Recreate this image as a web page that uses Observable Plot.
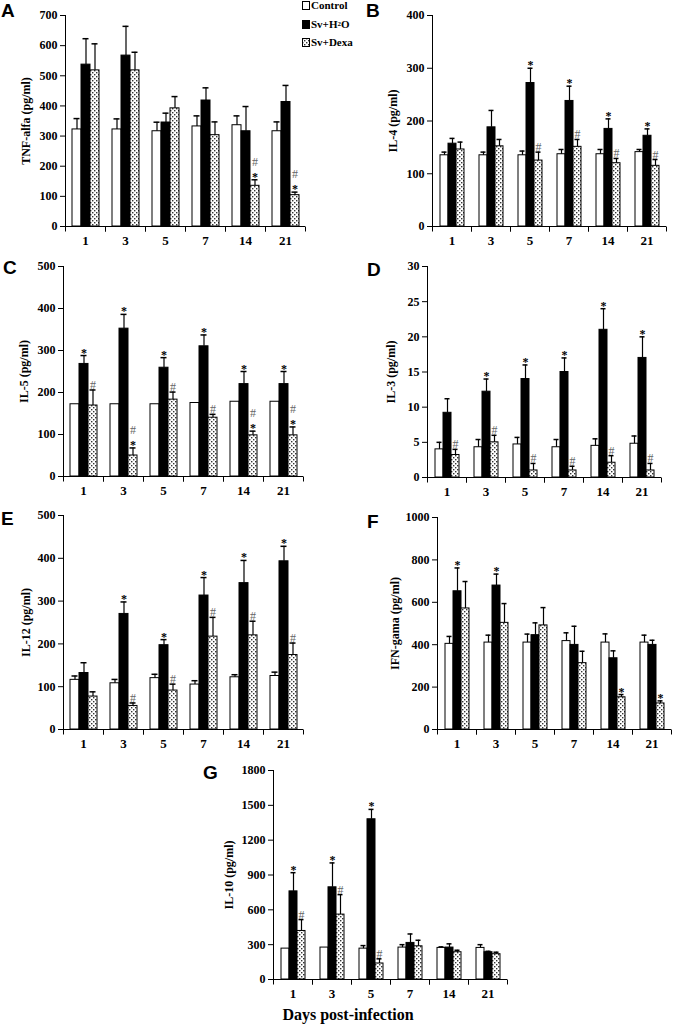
<!DOCTYPE html>
<html><head><meta charset="utf-8">
<script src="https://cdn.jsdelivr.net/npm/d3@7"></script>
<script src="https://cdn.jsdelivr.net/npm/@observablehq/plot@0.6"></script>
<style>
body{margin:0;background:#fff;}
#fig{position:relative;width:675px;height:1029px;overflow:hidden;font-family:'Liberation Serif','Times New Roman',serif;}
.pn{position:absolute;}
.pn g[aria-label="fx-axis tick label"]{font-size:13px;}
.letter{position:absolute;font:bold 19px 'Liberation Sans',Arial,sans-serif;line-height:1;}
.legend{position:absolute;left:302px;top:0;font:bold 11px 'Liberation Serif','Times New Roman',serif;}
.legend div{height:18.5px;line-height:11px;white-space:nowrap;display:flex;align-items:flex-start;}
.legend svg{margin-right:1px;margin-top:1px;}
.xtitle{position:absolute;left:0;width:696px;top:1006px;text-align:center;font:bold 16px 'Liberation Serif','Times New Roman',serif;}
</style></head>
<body>
<svg width="0" height="0" style="position:absolute">
<defs>
<pattern id="dots" width="4" height="4" patternUnits="userSpaceOnUse">
<rect width="4" height="4" fill="#fff"/>
<rect x="0" y="0" width="1.4" height="1.4" fill="#333"/>
<rect x="2" y="2" width="1.4" height="1.4" fill="#333"/>
</pattern>
</defs>
</svg>
<div id="fig"></div>
<script>
const days = ["1", "3", "5", "7", "14", "21"];
const groups = ["Control", "Sv+H2O", "Sv+Dexa"];

// A: TNF-alfa (mean, SEM, significance marks)
const tnfControl = [322, 322, 316, 332, 336, 316];
const tnfControlSem = [36, 35, 30, 35, 31, 31];
const tnfH2O = [537, 567, 345, 418, 316, 413];
const tnfH2OSem = [86, 97, 31, 42, 82, 55];
const tnfDexa = [518, 518, 392, 303, 135, 104];
const tnfDexaSem = [88, 60, 39, 44, 20, 10];
const tnfH2OSig = ["", "", "", "", "", ""];
const tnfDexaSig = ["", "", "", "", "#*", "#*"];

// B: IL-4
const il4Control = [135, 135, 135, 137, 137, 141];
const il4ControlSem = [6, 6, 8, 9, 9, 5];
const il4H2O = [157, 188, 272, 238, 185, 172];
const il4H2OSem = [10, 32, 28, 28, 19, 13];
const il4Dexa = [146, 152, 125, 151, 120, 115];
const il4DexaSem = [14, 13, 16, 14, 9, 12];
const il4H2OSig = ["", "", "*", "*", "*", "*"];
const il4DexaSig = ["", "", "#", "#", "#", "#"];

// C: IL-5
const il5Control = [172, 172, 172, 175, 178, 178];
const il5ControlSem = [null, null, null, null, null, null];
const il5H2O = [268, 352, 259, 310, 220, 220];
const il5H2OSem = [20, 34, 24, 27, 30, 30];
const il5Dexa = [169, 50, 183, 140, 98, 98];
const il5DexaSem = [37, 18, 18, 8, 10, 20];
const il5H2OSig = ["*", "*", "*", "*", "*", "*"];
const il5DexaSig = ["#", "#*", "#", "#", "#*", "#*"];

// D: IL-3
const il3Control = [4.0, 4.3, 4.7, 4.3, 4.5, 4.8];
const il3ControlSem = [1.0, 1.1, 1.0, 1.1, 1.0, 1.1];
const il3H2O = [9.2, 12.2, 14, 15, 21, 17];
const il3H2OSem = [2.0, 1.8, 2, 2, 3, 3];
const il3Dexa = [3.2, 5.0, 1.0, 1.0, 2.1, 1.0];
const il3DexaSem = [0.8, 1.0, 1.0, 0.6, 1.0, 1.0];
const il3H2OSig = ["", "*", "*", "*", "*", "*"];
const il3DexaSig = ["#", "#", "#", "#", "#", "#"];

// E: IL-12
const il12Control = [116, 108, 120, 105, 122, 125];
const il12ControlSem = [9, 9, 9, 9, 6, 9];
const il12H2O = [132, 270, 197, 313, 342, 393];
const il12H2OSem = [24, 28, 13, 42, 53, 35];
const il12Dexa = [77, 55, 91, 217, 220, 174];
const il12DexaSem = [11, 7, 15, 45, 33, 28];
const il12H2OSig = ["", "*", "*", "*", "*", "*"];
const il12DexaSig = ["", "#", "#", "#", "#", "#"];

// F: IFN-gama
const ifnControl = [404, 410, 410, 417, 410, 410];
const ifnControlSem = [35, 35, 40, 39, 41, 35];
const ifnH2O = [652, 679, 445, 399, 336, 399];
const ifnH2OSem = [110, 54, 58, 88, 35, 22];
const ifnDexa = [571, 503, 491, 313, 152, 123];
const ifnDexaSem = [127, 91, 84, 56, 13, 12];
const ifnH2OSig = ["*", "*", "", "", "", ""];
const ifnDexaSig = ["", "", "", "", "*", "*"];

// G: IL-10
const il10Control = [266, 275, 266, 275, 272, 272];
const il10ControlSem = [null, null, 26, 25, 9, 28];
const il10H2O = [759, 794, 1380, 315, 275, 235];
const il10H2OSem = [161, 210, 85, 77, 32, 8];
const il10Dexa = [418, 559, 138, 286, 235, 218];
const il10DexaSem = [98, 172, 40, 52, 17, 17];
const il10H2OSig = ["*", "*", "*", "", "", ""];
const il10DexaSig = ["#", "#", "#", "", "", ""];

const ticksA = [0, 100, 200, 300, 400, 500, 600, 700];
const ticksB = [0, 100, 200, 300, 400];
const ticksC = [0, 100, 200, 300, 400, 500];
const ticksD = [0, 5, 10, 15, 20, 25, 30];
const ticksE = [0, 100, 200, 300, 400, 500];
const ticksF = [0, 200, 400, 600, 800, 1000];
const ticksG = [0, 300, 600, 900, 1200, 1500, 1800];

const fills = {"Control": "#fff", "Sv+H2O": "#000", "Sv+Dexa": "url(#dots)"};
const boundaryTick = {draw(context) { context.moveTo(0, 0); context.lineTo(0, 5); }};

function table(series) {
  const rows = [];
  days.forEach((day, i) => {
    series.forEach(([group, mean, sem, sig]) => {
      const s = sem[i];
      rows.push({day, group, value: mean[i], err: s == null ? null : mean[i] + s, sig: sig ? sig[i] : ""});
    });
  });
  return rows;
}

const panels = [
  {letter: "A", left: 0, top: 0, width: 320, height: 255, ml: 65, mr: 15, mt: 15, mb: 29, ticks: ticksA,
   label: "TNF-alfa (pg/ml)", lo: 44, lx: 1, ly: 1,
   series: [["Control", tnfControl, tnfControlSem], ["Sv+H2O", tnfH2O, tnfH2OSem, tnfH2OSig], ["Sv+Dexa", tnfDexa, tnfDexaSem, tnfDexaSig]]},
  {letter: "B", left: 340, top: 0, width: 335, height: 255, ml: 89, mr: 7, mt: 15, mb: 29, ticks: ticksB,
   label: "IL-4 (pg/ml)", lo: 44, lx: 366, ly: 1,
   series: [["Control", il4Control, il4ControlSem], ["Sv+H2O", il4H2O, il4H2OSem, il4H2OSig], ["Sv+Dexa", il4Dexa, il4DexaSem, il4DexaSig]]},
  {letter: "C", left: 0, top: 255, width: 320, height: 250, ml: 62, mr: 16, mt: 11, mb: 29, ticks: ticksC,
   label: "IL-5 (pg/ml)", lo: 44, lx: 3, ly: 258,
   series: [["Control", il5Control, il5ControlSem], ["Sv+H2O", il5H2O, il5H2OSem, il5H2OSig], ["Sv+Dexa", il5Dexa, il5DexaSem, il5DexaSig]]},
  {letter: "D", left: 340, top: 255, width: 335, height: 250, ml: 84, mr: 12, mt: 11, mb: 28, ticks: ticksD,
   label: "IL-3 (pg/ml)", lo: 41, lx: 367, ly: 260,
   series: [["Control", il3Control, il3ControlSem], ["Sv+H2O", il3H2O, il3H2OSem, il3H2OSig], ["Sv+Dexa", il3Dexa, il3DexaSem, il3DexaSig]]},
  {letter: "E", left: 0, top: 505, width: 320, height: 250, ml: 62, mr: 16, mt: 10, mb: 26, ticks: ticksE,
   label: "IL-12 (pg/ml)", lo: 42, lx: 1, ly: 509,
   series: [["Control", il12Control, il12ControlSem], ["Sv+H2O", il12H2O, il12H2OSem, il12H2OSig], ["Sv+Dexa", il12Dexa, il12DexaSem, il12DexaSig]]},
  {letter: "F", left: 340, top: 505, width: 335, height: 250, ml: 95, mr: 2, mt: 12, mb: 26, ticks: ticksF,
   label: "IFN-gama (pg/ml)", lo: 47, lx: 367, ly: 512,
   series: [["Control", ifnControl, ifnControlSem], ["Sv+H2O", ifnH2O, ifnH2OSem, ifnH2OSig], ["Sv+Dexa", ifnDexa, ifnDexaSem, ifnDexaSig]]},
  {letter: "G", left: 160, top: 760, width: 360, height: 250, ml: 112, mr: 12, mt: 10, mb: 31, ticks: ticksG,
   label: "IL-10 (pg/ml)", lo: 49, lx: 203, ly: 763,
   series: [["Control", il10Control, il10ControlSem], ["Sv+H2O", il10H2O, il10H2OSem, il10H2OSig], ["Sv+Dexa", il10Dexa, il10DexaSem, il10DexaSig]]}
];

const fig = document.getElementById("fig");

for (const p of panels) {
  const rows = table(p.series);
  const errRows = rows.filter(d => d.err != null);
  const top = d => d.err ?? d.value;
  const stars = rows.filter(d => d.sig.includes("*"));
  const hashAlone = rows.filter(d => d.sig.includes("#") && !d.sig.includes("*"));
  const hashOverStar = rows.filter(d => d.sig.includes("#") && d.sig.includes("*"));
  const chart = Plot.plot({
    width: p.width, height: p.height,
    marginLeft: p.ml, marginRight: p.mr, marginTop: p.mt, marginBottom: p.mb,
    style: {fontFamily: "'Liberation Serif','Times New Roman',serif", fontWeight: "bold", fontSize: "12px", background: "transparent", overflow: "visible", color: "#000"},
    fx: {domain: days, padding: 0, axis: "bottom", tickSize: 0, tickPadding: 9, label: null},
    x: {domain: groups, axis: null, paddingInner: 0, paddingOuter: 0.72},
    y: {domain: [0, p.ticks[p.ticks.length - 1]], ticks: p.ticks, tickSize: 5, tickPadding: 3, line: true,
        label: p.label, labelAnchor: "center", labelOffset: p.lo, labelArrow: "none", tickFormat: d => String(d)},
    marks: [
      ...groups.map(g => Plot.barY(rows.filter(d => d.group === g), {fx: "day", x: "group", y: "value", fill: fills[g], stroke: "#000", strokeWidth: 1})),
      Plot.ruleX(errRows, {fx: "day", x: "group", y1: "value", y2: "err", stroke: "#000", strokeWidth: 1.2}),
      Plot.tickY(errRows, {fx: "day", x: "group", y: "err", stroke: "#000", strokeWidth: 1.5, insetLeft: 1.5, insetRight: 1.5}),
      Plot.text(stars, {fx: "day", x: "group", y: top, text: () => "*", lineAnchor: "bottom", dy: 1, fontSize: 12, fill: "#000"}),
      Plot.text(hashAlone, {fx: "day", x: "group", y: top, text: () => "#", lineAnchor: "bottom", dy: -1, fontSize: 12, fontWeight: "normal", fill: "#666"}),
      Plot.text(hashOverStar, {fx: "day", x: "group", y: top, text: () => "#", lineAnchor: "bottom", dy: -14, fontSize: 12, fontWeight: "normal", fill: "#666"}),
      Plot.ruleY([0], {stroke: "#000"}),
      Plot.dot([0], {frameAnchor: "bottom-left", symbol: boundaryTick, fill: "none", stroke: "#000", strokeWidth: 1}),
      Plot.dot([0], {frameAnchor: "bottom-right", symbol: boundaryTick, fill: "none", stroke: "#000", strokeWidth: 1})
    ]
  });
  chart.classList.add("pn");
  chart.style.left = p.left + "px";
  chart.style.top = p.top + "px";
  fig.appendChild(chart);
  const L = document.createElement("div");
  L.className = "letter";
  L.textContent = p.letter;
  L.style.left = p.lx + "px";
  L.style.top = p.ly + "px";
  fig.appendChild(L);
}

// legend
const legend = document.createElement("div");
legend.className = "legend";
const legendItems = [["Control", "Control"], ["Sv+H2O", "Sv+H<sub style='font-size:7px;vertical-align:2px'>2</sub>O"], ["Sv+Dexa", "Sv+Dexa"]];
for (const [g, html] of legendItems) {
  const row = document.createElement("div");
  row.innerHTML = `<svg width="8" height="9"><rect x="0.5" y="0.5" width="7" height="8" fill="${fills[g]}" stroke="#000"/></svg><span>${html}</span>`;
  legend.appendChild(row);
}
fig.appendChild(legend);

const xt = document.createElement("div");
xt.className = "xtitle";
xt.textContent = "Days post-infection";
fig.appendChild(xt);
</script>
</body></html>
